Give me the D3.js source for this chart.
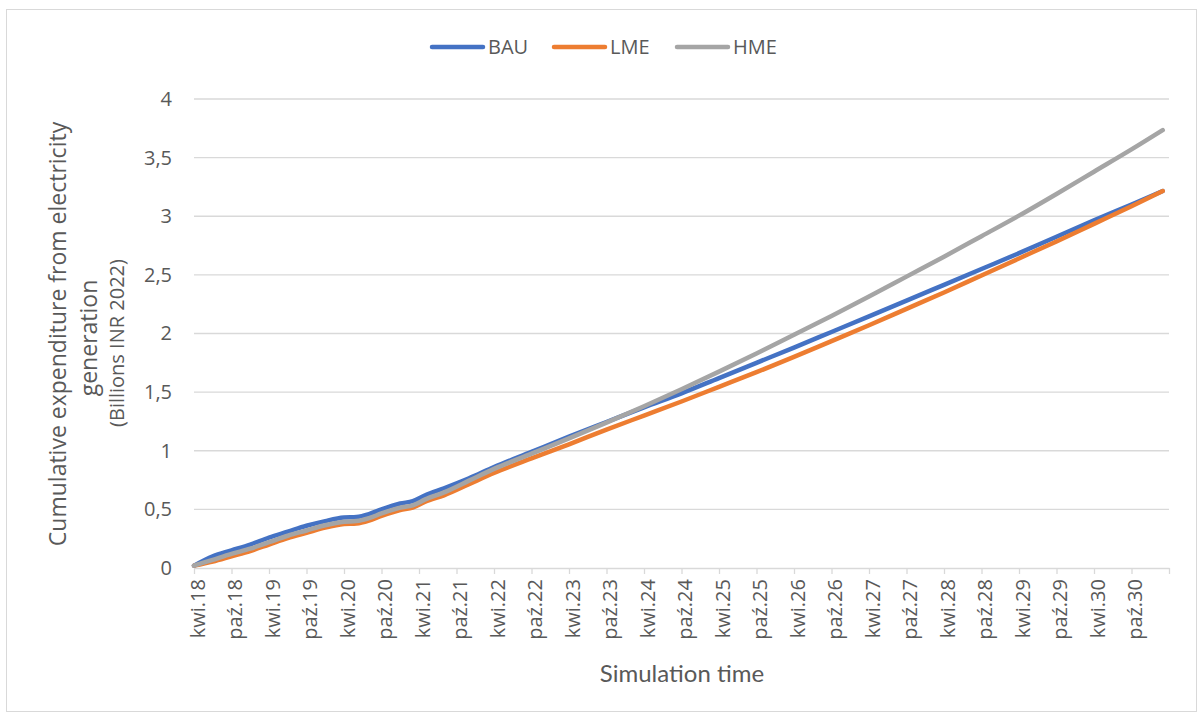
<!DOCTYPE html>
<html>
<head>
<meta charset="utf-8">
<script src="https://cdn.jsdelivr.net/npm/d3@7"></script>
<style>
    body { margin: 0; background: #ffffff; }
    #chart text { fill: #595959; }
</style>
</head>
<body>
<div id="chart"></div>
<script>
// months since April 2018 for each sampled point
var months = [0, 3, 6, 9, 12, 15, 18, 21, 24, 26, 28, 30, 33, 35, 37, 40, 44, 48, 54, 60, 66, 72, 78, 84, 90, 96, 102, 108, 114, 120, 126, 132, 138, 144, 150, 155];

var bau = [0.02, 0.10, 0.15, 0.20, 0.26, 0.31, 0.36, 0.40, 0.43, 0.435, 0.46, 0.50, 0.55, 0.57, 0.62, 0.68, 0.765, 0.86, 0.99, 1.12, 1.245, 1.37, 1.49, 1.62, 1.75, 1.88, 2.013, 2.146, 2.28, 2.415, 2.55, 2.685, 2.825, 2.965, 3.10, 3.215];
var lme = [0.02, 0.055, 0.10, 0.145, 0.20, 0.255, 0.30, 0.345, 0.375, 0.38, 0.405, 0.445, 0.495, 0.515, 0.565, 0.62, 0.715, 0.81, 0.935, 1.055, 1.18, 1.30, 1.42, 1.545, 1.67, 1.80, 1.935, 2.07, 2.21, 2.35, 2.495, 2.64, 2.785, 2.935, 3.085, 3.215];
var hme = [0.02, 0.07, 0.12, 0.165, 0.22, 0.275, 0.32, 0.365, 0.395, 0.40, 0.425, 0.465, 0.515, 0.535, 0.585, 0.645, 0.745, 0.845, 0.975, 1.105, 1.24, 1.38, 1.525, 1.675, 1.83, 1.99, 2.15, 2.315, 2.485, 2.655, 2.83, 3.005, 3.19, 3.38, 3.57, 3.735];

var seriesNames = ["BAU", "LME", "HME"];
var seriesColors = ["#4472C4", "#ED7D31", "#A5A5A5"];

var tickLabels = ["kwi.18", "paź.18", "kwi.19", "paź.19", "kwi.20", "paź.20", "kwi.21", "paź.21", "kwi.22", "paź.22", "kwi.23", "paź.23", "kwi.24", "paź.24", "kwi.25", "paź.25", "kwi.26", "paź.26", "kwi.27", "paź.27", "kwi.28", "paź.28", "kwi.29", "paź.29", "kwi.30", "paź.30"];
var yTicks = [0, 0.5, 1, 1.5, 2, 2.5, 3, 3.5, 4];

(function() {
    var width = 1202, height = 717;
    var margin = { top: 99, left: 194, right: 33, bottom: 149 };
    var innerW = width - margin.left - margin.right,
        innerH = height - margin.top - margin.bottom;

    var svg = d3.select("#chart")
        .append("svg")
        .attr("width", width)
        .attr("height", height)
        .style("font-family", "'Open Sans', sans-serif");

    // outer chart frame
    svg.append("rect")
        .attr("x", 6.5).attr("y", 9.5)
        .attr("width", 1190).attr("height", 702)
        .attr("fill", "none")
        .attr("stroke", "#d9d9d9")

    var g = svg.append("g")
        .attr("transform", "translate(" + margin.left + "," + margin.top + ")");

    var x = d3.scaleLinear().domain([0, 156]).range([0, innerW]);
    var y = d3.scaleLinear().domain([0, 4]).range([innerH, 0]);

    // gridlines
    g.selectAll(".grid")
        .data(yTicks.slice(1))
        .enter().append("line")
        .attr("class", "grid")
        .attr("x1", 0).attr("x2", innerW)
        .attr("y1", function(d) { return y(d); })
        .attr("y2", function(d) { return y(d); })
        .attr("stroke", "#d9d9d9")
        .attr("stroke-width", 1.3)

    // y axis (labels only)
    var yAxis = g.append("g")
        .call(d3.axisLeft(y).tickValues(yTicks).tickSize(0).tickPadding(22)
            .tickFormat(function(d) { return String(d).replace(".", ","); }));
    yAxis.select(".domain").remove();
    yAxis.selectAll("text")
        .style("font-size", "20px")
        .style("font-family", "'Open Sans', sans-serif");

    // x axis
    var xTickVals = d3.range(0, 157, 6);
    var xAxis = g.append("g")
        .attr("transform", "translate(0," + innerH + ")")
        .call(d3.axisBottom(x).tickValues(xTickVals).tickSize(6).tickSizeOuter(0)
            .tickFormat(function(d, i) { return tickLabels[i] || ""; }));
    xAxis.select(".domain").attr("stroke", "#d9d9d9").attr("stroke-width", 1.3);
    xAxis.selectAll(".tick line").attr("stroke", "#d9d9d9").attr("stroke-width", 1.3);
    xAxis.selectAll("text")
        .attr("transform", "rotate(-90)")
        .attr("x", -11)
        .attr("y", 3)
        .attr("dy", "0.35em")
        .attr("text-anchor", "end")
        .style("font-size", "20px")
        .style("font-family", "'Open Sans', sans-serif");

    var line = d3.line()
        .x(function(d) { return x(d[0]); })
        .y(function(d) { return y(d[1]); })
        .curve(d3.curveMonotoneX);

    var allSeries = [bau, lme, hme];
    // draw order: BAU, LME, HME on top
    allSeries.forEach(function(vals, i) {
        g.append("path")
            .datum(months.map(function(m, j) { return [m, vals[j]]; }))
            .attr("d", line)
            .attr("fill", "none")
            .attr("stroke", seriesColors[i])
            .attr("stroke-width", 4.5)
            .attr("stroke-linecap", "round")
            .attr("stroke-linejoin", "round")
    });

    // legend
    var legendX = [430, 552, 675];
    var legend = svg.selectAll(".legend")
        .data(seriesNames)
        .enter().append("g")
        .attr("class", "legend")
        .attr("transform", function(d, i) { return "translate(" + legendX[i] + ",47)"; });
    legend.append("line")
        .attr("x1", 2).attr("x2", 53)
        .attr("stroke", function(d, i) { return seriesColors[i]; })
        .attr("stroke-width", 4.5)
        .attr("stroke-linecap", "round")
    legend.append("text")
        .attr("x", 58)
        .attr("dy", "0.35em")
        .style("font-size", "20px")
        .text(function(d) { return d; })

    // axis titles
    svg.append("text")
        .attr("x", 682).attr("y", 682)
        .attr("text-anchor", "middle")
        .style("font-size", "24px")
        .style("font-family", "Lato, sans-serif")
        .text("Simulation time")

    var ytitle = svg.append("text")
        .attr("transform", "translate(0,334) rotate(-90)")
        .attr("text-anchor", "middle");
    ytitle.append("tspan").attr("x", 0).attr("y", 66)
        .style("font-size", "23px")
        .text("Cumulative expenditure from electricity");
    ytitle.append("tspan").attr("x", -4).attr("y", 97)
        .style("font-size", "23px")
        .text("generation");
    ytitle.append("tspan").attr("x", -9).attr("y", 124)
        .style("font-size", "20px")
        .text("(Billions INR 2022)");
})();
</script>
</body>
</html>
